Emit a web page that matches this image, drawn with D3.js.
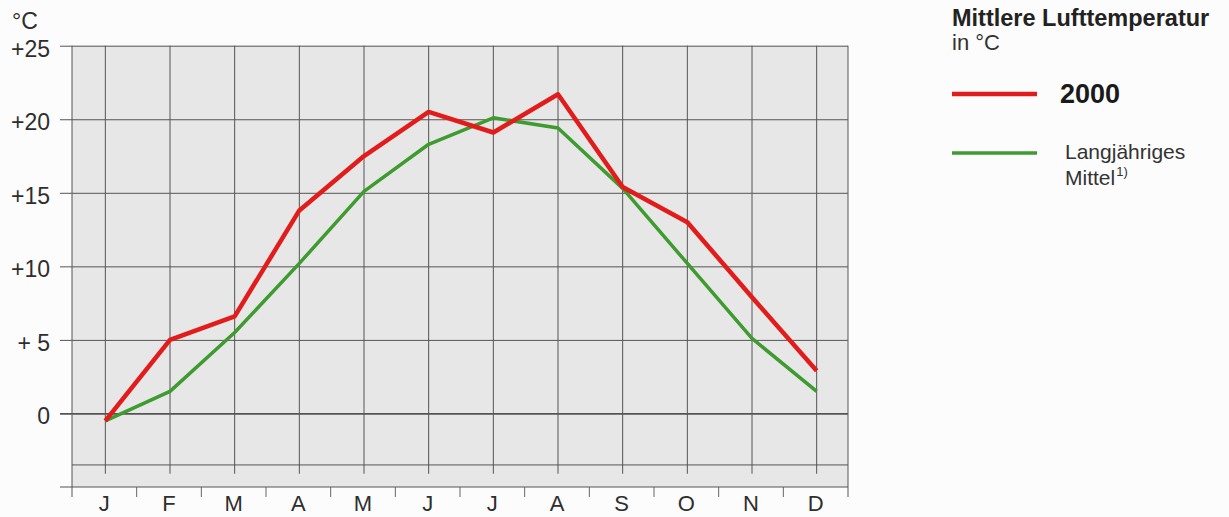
<!DOCTYPE html>
<html>
<head>
<meta charset="utf-8">
<script src="https://cdn.jsdelivr.net/npm/d3@7"></script>
<style>
  html, body { margin: 0; padding: 0; background: #fcfcfc; }
  svg { display: block; font-family: "Liberation Sans", Arial, Helvetica, sans-serif; }
</style>
</head>
<body>
<div id="chart"></div>
<script>
// Monate und Werte (mittlere Lufttemperatur in °C)
const months = ["J", "F", "M", "A", "M", "J", "J", "A", "S", "O", "N", "D"];
const temp2000 = [-0.5, 5.0, 6.6, 13.8, 17.5, 20.5, 19.1, 21.7, 15.4, 13.0, 7.9, 2.9];
const tempMittel = [-0.5, 1.5, 5.5, 10.2, 15.1, 18.3, 20.1, 19.4, 15.3, 10.2, 5.1, 1.5];
const yTicks = [0, 5, 10, 15, 20, 25];
const yTickLabels = ["0", "+ 5", "+10", "+15", "+20", "+25"];
const legendTitle = "Mittlere Lufttemperatur";
const legendUnit = "in °C";

const width = 1229;
const height = 517;

const plotLeft = 72, plotRight = 848;

const svg = d3.select("#chart")
  .append("svg")
  .attr("width", width)
  .attr("height", height);

// index based band scale, labels come from months[]
const x = d3.scaleBand()
  .domain(d3.range(months.length))
  .range([plotLeft, plotRight]);

const y = d3.scaleLinear()
  .domain([-5, 25])
  .range([487, 45.7]);

const cx = i => x(i) + x.bandwidth() / 2 + 1;

// grey plot background
svg.append("rect")
  .attr("x", plotLeft)
  .attr("y", y(25))
  .attr("width", plotRight - plotLeft)
  .attr("height", y(-5) - y(25))
  .attr("fill", "#e7e7e7");

// vertical grid lines at month centres
svg.append("g")
  .selectAll("line")
  .data(months.map((m, i) => i))
  .enter()
  .append("line")
  .attr("x1", cx)
  .attr("x2", cx)
  .attr("y1", y(25))
  .attr("y2", y(-4.1))
  .attr("stroke", "#555")
  .attr("stroke-width", 1);

// y axis: ticks run across whole plot as grid lines
const yAxis = d3.axisLeft(y)
  .tickValues(yTicks)
  .tickSize(plotRight - 60)
  .tickPadding(10)
  .tickFormat((d, i) => yTickLabels[i]);

const gy = svg.append("g")
  .attr("transform", `translate(${plotRight},0)`)
  .call(yAxis);
gy.select(".domain").remove();
gy.selectAll(".tick line")
  .attr("stroke", "#555")
  .attr("stroke-width", d => d === 0 ? 1.8 : 1);
gy.selectAll(".tick text")
  .attr("fill", "#2e2e2e")
  .attr("font-size", 23)
  .attr("dy", "0.45em")
  .style("font-family", "inherit");

// extra line below zero
svg.append("line")
  .attr("x1", plotLeft).attr("x2", plotRight)
  .attr("y1", y(-3.5)).attr("y2", y(-3.5))
  .attr("stroke", "#555").attr("stroke-width", 1);

// bottom axis line
svg.append("line")
  .attr("x1", 60).attr("x2", plotRight)
  .attr("y1", y(-5)).attr("y2", y(-5))
  .attr("stroke", "#555").attr("stroke-width", 1.2);

// left and right frame
svg.append("g")
  .selectAll("line")
  .data([plotLeft, plotRight])
  .enter()
  .append("line")
  .attr("x1", d => d).attr("x2", d => d)
  .attr("y1", y(25)).attr("y2", y(-5) + 10)
  .attr("stroke", "#555").attr("stroke-width", 1);

// tick marks at month boundaries
svg.append("g")
  .selectAll("line")
  .data(d3.range(1, months.length))
  .enter()
  .append("line")
  .attr("x1", d => x(d)).attr("x2", d => x(d))
  .attr("y1", y(-5)).attr("y2", y(-5) + 10)
  .attr("stroke", "#666").attr("stroke-width", 1);

// month labels
const xAxis = d3.axisBottom(x)
  .tickSize(0)
  .tickPadding(8)
  .tickFormat(i => months[i]);
const gx = svg.append("g")
  .attr("transform", `translate(0,${y(-5)})`)
  .call(xAxis);
gx.select(".domain").remove();
gx.selectAll(".tick text")
  .attr("fill", "#2e2e2e")
  .attr("font-size", 22)
  .style("font-family", "inherit");

// unit label
svg.append("text")
  .attr("x", 12).attr("y", 29)
  .attr("font-size", 23)
  .attr("fill", "#2e2e2e")
  .text("°C");

// data lines
const line = d3.line()
  .x((d, i) => cx(i))
  .y(d => y(d));

svg.append("path")
  .datum(tempMittel)
  .attr("d", line)
  .attr("fill", "none")
  .attr("stroke", "#3e9b2f")
  .attr("stroke-width", 3.5)
  .attr("stroke-linejoin", "round");

svg.append("path")
  .datum(temp2000)
  .attr("d", line)
  .attr("fill", "none")
  .attr("stroke", "#e21b1b")
  .attr("stroke-width", 4.5)
  .attr("stroke-linejoin", "round");

// legend
const lg = svg.append("g");
lg.append("text")
  .attr("x", 952).attr("y", 26)
  .attr("font-size", 23.5)
  .attr("font-weight", "bold")
  .attr("fill", "#222")
  .text(legendTitle);
lg.append("text")
  .attr("x", 952).attr("y", 50)
  .attr("font-size", 22)
  .attr("fill", "#333")
  .text(legendUnit);

lg.append("line")
  .attr("x1", 952).attr("x2", 1037)
  .attr("y1", 94).attr("y2", 94)
  .attr("stroke", "#e21b1b").attr("stroke-width", 4.5);
lg.append("text")
  .attr("x", 1060).attr("y", 103)
  .attr("font-size", 27)
  .attr("font-weight", "bold")
  .attr("fill", "#1a1a1a")
  .text("2000");

lg.append("line")
  .attr("x1", 952).attr("x2", 1037)
  .attr("y1", 153).attr("y2", 153)
  .attr("stroke", "#3e9b2f").attr("stroke-width", 3.5);
lg.append("text")
  .attr("x", 1065).attr("y", 159)
  .attr("font-size", 21)
  .attr("fill", "#333")
  .text("Langjähriges");
const m = lg.append("text")
  .attr("x", 1065).attr("y", 185)
  .attr("font-size", 21)
  .attr("fill", "#333");
m.append("tspan").text("Mittel");
m.append("tspan")
  .attr("font-size", 13)
  .attr("dx", 1)
  .attr("dy", -9)
  .text("1)");
</script>
</body>
</html>
